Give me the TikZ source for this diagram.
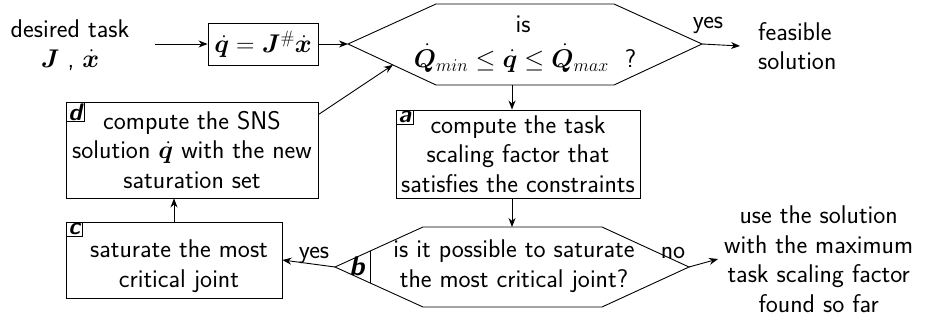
\RequirePackage{fix-cm}
\documentclass[tikz,border=0pt]{standalone}
\usepackage{amsmath,bm}
\usetikzlibrary{arrows.meta,calc}
\tikzset{
  ln/.style={line width=0.9pt},
  box/.style={draw, ln, inner sep=0pt, align=center},
  txt/.style={inner sep=0pt, align=center},
  tag/.style={draw, line width=0.8pt, inner xsep=2.5pt, inner ysep=1.5pt, anchor=north west,
    font=\sffamily\bfseries\slshape\fontsize{24}{24}\selectfont},
  arr/.style={ln, -{Stealth[length=9pt,width=7pt]}}
}
\begin{document}
\begin{tikzpicture}[x=1pt,y=-1pt, font=\sffamily\fontsize{25.6}{29.5}\selectfont]
\useasboundingbox (0,0) rectangle (928,320);

% input
\node[txt] (desired) at (70,45) {desired task\\$\bm{J}$ , $\dot{\bm{x}}$};
\coordinate (start) at (155,44);
\node[box, minimum width=110pt, minimum height=42pt] (eq) at (263,44) {$\dot{\bm q}=\bm J^{\#}\dot{\bm x}$};

% first decision hexagon
\coordinate (h1w) at (348,44);
\coordinate (h1nw) at (436,4);
\coordinate (h1ne) at (614,4);
\coordinate (h1e) at (702,44);
\coordinate (h1se) at (614,85);
\coordinate (h1sw) at (436,85);
\coordinate (h1s) at (512,85);
\draw[ln] (h1w)--(h1nw)--(h1ne)--(h1e)--(h1se)--(h1sw)--cycle;
\node[txt] (h1is) at (523,24) {is};
\node[txt] (h1f) at (525,58) {$\dot{\bm Q}_{min}\le\dot{\bm q}\le\dot{\bm Q}_{max}$\ \ ?};

\node[inner xsep=18pt, inner ysep=0pt, anchor=west, align=left] (feas) at (740,46) {feasible\\solution};
\node[txt] (yes1) at (708,25) {yes};

% box a
\node[box, minimum width=244pt, minimum height=88pt] (a) at (518,154) {compute the task\\scaling factor that\\satisfies the constraints};
\node[tag] (taga) at (a.north west) {a};

% second decision hexagon
\coordinate (h2w) at (335,267);
\coordinate (h2nw) at (423,227);
\coordinate (h2ne) at (602,227);
\coordinate (h2e) at (689,267);
\coordinate (h2se) at (602,307);
\coordinate (h2sw) at (423,307);
\coordinate (h2n) at (512,227);
\draw[ln] (h2w)--(h2nw)--(h2ne)--(h2e)--(h2se)--(h2sw)--cycle;
\coordinate (bt) at ($(h2w)!35/88!(h2nw)$);
\coordinate (bb) at ($(h2w)!35/88!(h2sw)$);
\draw[line width=0.8pt] (bt) -- (bb);
\node[inner sep=0pt, font=\sffamily\bfseries\slshape\fontsize{27}{27}\selectfont] (tagb) at (357,266) {b};
\node[txt] (h2t) at (514,266) {is it possible to saturate\\the most critical joint?};

\node[txt] (no) at (673,253) {no};
\node[inner xsep=6pt, inner ysep=0pt, anchor=west, align=center] (use) at (718,259) {use the solution\\with the maximum\\task scaling factor\\found so far};

% box c
\node[box, minimum width=216pt, minimum height=76pt] (c) at (174,260) {};
\node[txt] (ct) at (179,266) {saturate the most\\critical joint};
\node[tag] (tagc) at (c.north west) {c};
\node[txt] (yes2) at (314,255) {yes};

% box d
\node[box, minimum width=252pt, minimum height=96pt] (d) at (192,150) {compute the SNS\\solution $\dot{\bm q}$ with the new\\saturation set};
\node[tag] (tagd) at (d.north west) {d};

% connectors
\draw[arr] (start) -- (eq.west);
\draw[arr] (eq.east) -- (h1w);
\draw[arr] (h1e) -- (feas.west);
\draw[arr] (h1s) -- (h1s |- a.north);
\draw[arr] (h1s |- a.south) -- (h2n);
\draw[arr] (h2e) -- (use.west);
\draw[arr] (h2w) -- (c.east);
\draw[arr] (c.north) -- (c.north |- d.south);
\draw[arr] ($(d.north east)+(0,13)$) -- ($(h1w)!0.51!(h1sw)$);
\end{tikzpicture}
\end{document}
